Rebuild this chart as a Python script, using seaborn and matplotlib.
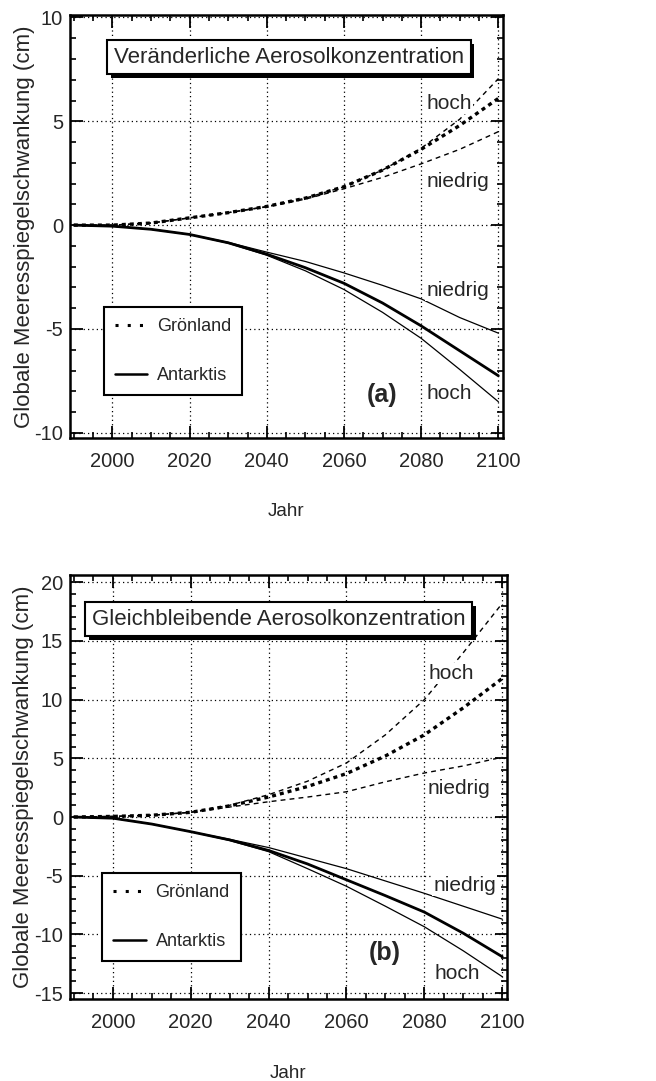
import numpy as np
import pandas as pd
import seaborn as sns
import matplotlib
matplotlib.use("Agg")
import matplotlib.pyplot as plt
from matplotlib.lines import Line2D
from matplotlib.ticker import MultipleLocator
import matplotlib.patheffects as pe

# ---------------- data ----------------
years = [1990, 2000, 2010, 2020, 2030, 2040, 2050, 2060, 2070, 2080, 2090, 2100]

# Panel (a): variable aerosol concentration
gr_mid_a = [0, 0.0, 0.1, 0.35, 0.6, 0.9, 1.3, 1.85, 2.65, 3.65, 4.8, 6.1]
gr_hoch_a = [0, 0.0, 0.1, 0.35, 0.6, 0.9, 1.3, 1.85, 2.65, 3.7, 5.1, 7.05]
gr_nied_a = [0, 0.0, 0.1, 0.35, 0.6, 0.88, 1.25, 1.75, 2.3, 2.95, 3.65, 4.5]
an_mid_a = [0, -0.05, -0.2, -0.45, -0.85, -1.4, -2.05, -2.8, -3.75, -4.85, -6.05, -7.25]
an_nied_a = [0, -0.05, -0.2, -0.45, -0.83, -1.3, -1.75, -2.3, -2.9, -3.55, -4.45, -5.2]
an_hoch_a = [0, -0.05, -0.2, -0.45, -0.87, -1.45, -2.2, -3.1, -4.2, -5.45, -6.95, -8.5]

# Panel (b): constant aerosol concentration
gr_mid_b = [0, 0.05, 0.15, 0.4, 0.95, 1.7, 2.6, 3.7, 5.2, 7.0, 9.3, 11.8]
gr_hoch_b = [0, 0.05, 0.15, 0.4, 1.0, 1.9, 3.05, 4.6, 7.0, 10.0, 14.0, 18.2]
gr_nied_b = [0, 0.05, 0.15, 0.4, 0.85, 1.3, 1.7, 2.15, 3.0, 3.75, 4.35, 5.1]
an_mid_b = [0, -0.1, -0.6, -1.25, -1.95, -2.85, -4.0, -5.35, -6.7, -8.1, -9.9, -11.9]
an_nied_b = [0, -0.1, -0.6, -1.25, -1.9, -2.6, -3.5, -4.4, -5.45, -6.5, -7.6, -8.7]
an_hoch_b = [0, -0.1, -0.6, -1.25, -2.0, -2.95, -4.4, -5.9, -7.6, -9.35, -11.4, -13.6]

titles = ["Veränderliche Aerosolkonzentration", "Gleichbleibende Aerosolkonzentration"]
panel_tags = ["(a)", "(b)"]
legend_labels = ["Grönland", "Antarktis"]
xlabel = "Jahr"
ylabel = "Globale Meeresspiegelschwankung (cm)"

# ---------------- style ----------------
sns.set_theme(style="ticks")
plt.rcParams["font.family"] = ["Liberation Sans", "DejaVu Sans"]
plt.rcParams["axes.linewidth"] = 1.8
plt.rcParams["axes.unicode_minus"] = False

fig = plt.figure(figsize=(6.56, 10.81), dpi=100)
ax_a = fig.add_axes([0.1067, 0.5948, 0.660, 0.391])
ax_b = fig.add_axes([0.1067, 0.0759, 0.666, 0.392])

panels = [
    dict(ax=ax_a, gr=(gr_mid_a, gr_hoch_a, gr_nied_a), an=(an_mid_a, an_nied_a, an_hoch_a),
         ylim=(-10.25, 10.1), yticks=[-10, -5, 0, 5, 10],
         title_xy=(0.506, 0.901),
         labels=[(2081.3, 5.86, "hoch"), (2081.3, 2.1, "niedrig"),
                 (2081.3, -3.14, "niedrig"), (2081.3, -8.1, "hoch")],
         tag_xy=(0.72, 0.102), legend_anchor=(0.0785, 0.310),
         ylab_x=-0.106, xlab_y=-0.154),
    dict(ax=ax_b, gr=(gr_mid_b, gr_hoch_b, gr_nied_b), an=(an_mid_b, an_nied_b, an_hoch_b),
         ylim=(-15.5, 20.6), yticks=[-15, -10, -5, 0, 5, 10, 15, 20],
         title_xy=(0.478, 0.896),
         labels=[(2081.0, 12.26, "hoch"), (2080.8, 2.47, "niedrig"),
                 (2082.3, -5.8, "niedrig"), (2082.6, -13.3, "hoch")],
         tag_xy=(0.72, 0.108), legend_anchor=(0.074, 0.297),
         ylab_x=-0.106, xlab_y=-0.156),
]

for i, p in enumerate(panels):
    ax = p["ax"]
    gm, gh, gn = p["gr"]
    am, an_, ah = p["an"]
    # Greenland
    sns.lineplot(x=years, y=gh, ax=ax, color="black", lw=1.0, linestyle=(0, (3.5, 3)))
    sns.lineplot(x=years, y=gn, ax=ax, color="black", lw=1.0, linestyle=(0, (3.5, 3)))
    sns.lineplot(x=years, y=gm, ax=ax, color="black", lw=2.4, linestyle=(0, (1.2, 1.2)))
    # Antarctica
    sns.lineplot(x=years, y=an_, ax=ax, color="black", lw=0.9)
    sns.lineplot(x=years, y=ah, ax=ax, color="black", lw=0.9)
    sns.lineplot(x=years, y=am, ax=ax, color="black", lw=2.0)

    ax.set_xlim(1989, 2101.2)
    ax.set_ylim(*p["ylim"])
    ax.set_xticks([2000, 2020, 2040, 2060, 2080, 2100])
    ax.set_yticks(p["yticks"])
    ax.xaxis.set_minor_locator(MultipleLocator(5))
    ax.yaxis.set_minor_locator(MultipleLocator(1))
    ax.tick_params(which="both", direction="in", top=True, right=True, color="black")
    ax.tick_params(which="major", length=9, width=1.3, labelsize=14.5)
    ax.tick_params(axis="x", which="major", pad=10)
    ax.tick_params(axis="y", which="major", pad=5)
    ax.tick_params(which="minor", length=4.5, width=1.2)
    ax.grid(True, which="major", color="black", linestyle=(0, (1, 2.5)), linewidth=0.9)
    for s in ax.spines.values():
        s.set_color("black")
        s.set_linewidth(1.8)

    ax.set_xlabel(xlabel, fontsize=13.5)
    ax.xaxis.set_label_coords(0.5, p["xlab_y"])
    ax.set_ylabel(ylabel, fontsize=16, va="center")
    ax.yaxis.set_label_coords(p["ylab_x"], 0.5)

    # Title box with drop shadow
    t = ax.text(p["title_xy"][0], p["title_xy"][1], titles[i], transform=ax.transAxes,
                ha="center", va="center", fontsize=16,
                bbox=dict(boxstyle="square,pad=0.3", fc="white", ec="black", lw=1.5),
                zorder=5)
    t.get_bbox_patch().set_path_effects([
        pe.SimplePatchShadow(offset=(2.5, -2.5), shadow_rgbFace="black", alpha=1.0),
        pe.Normal()])

    # Curve labels
    for (lx, ly, txt) in p["labels"]:
        ax.text(lx, ly, txt, ha="left", va="center", fontsize=15,
                bbox=dict(boxstyle="square,pad=0.05", fc="white", ec="none"), zorder=4)

    # Panel tag
    ax.text(p["tag_xy"][0], p["tag_xy"][1], panel_tags[i], transform=ax.transAxes,
            ha="center", va="center", fontsize=18, fontweight="bold")

    # Legend
    handles = [Line2D([], [], color="black", lw=2.2, linestyle=(0, (1, 3))),
               Line2D([], [], color="black", lw=1.8)]
    leg = ax.legend(handles, legend_labels, loc="upper left", bbox_to_anchor=p["legend_anchor"],
                    borderaxespad=0, fontsize=13, frameon=True, fancybox=False,
                    edgecolor="black", framealpha=1, labelspacing=1.8, handlelength=1.8,
                    handletextpad=0.55, borderpad=0.6)
    leg.get_frame().set_linewidth(1.5)

fig.savefig("out.png", dpi=100)
